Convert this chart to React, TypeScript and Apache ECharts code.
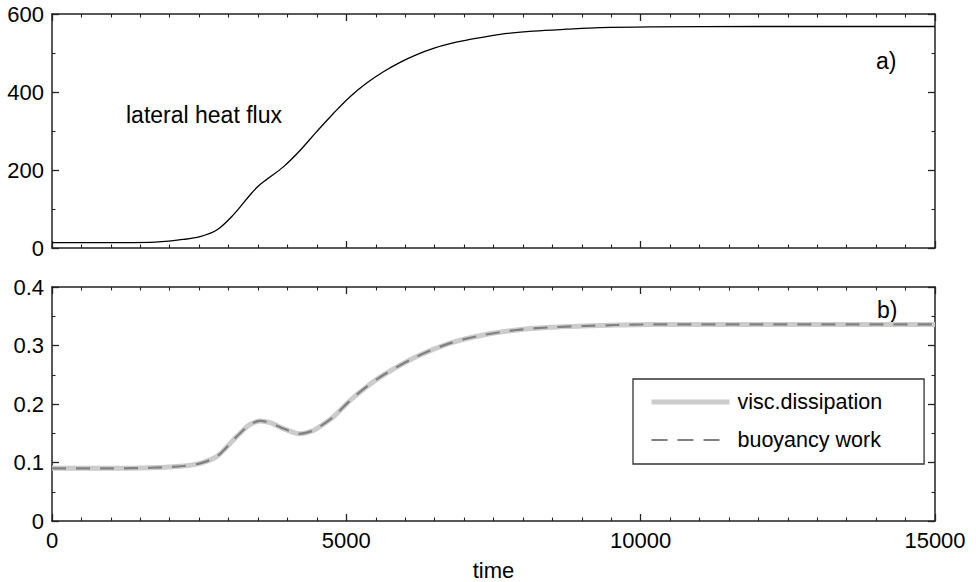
import React, { useEffect, useRef } from "react";
import * as echarts from "echarts";

const heatTime = [0, 1000, 1665, 2231, 2515, 2798, 3081, 3364, 3506, 3648, 3930, 4213, 4500, 4780, 5063, 5346, 5630, 5913, 6196, 6479, 6762, 7046, 7612, 8178, 8745, 9312, 10161, 12000, 15000];
const heatFlux = [14, 14, 14.5, 22, 29, 46, 85, 136, 159, 176, 208, 250, 299, 345, 388, 423, 452, 476, 496, 512, 524, 533, 548, 556, 561, 565, 567, 568, 568];

const workTime = [0, 1000, 1665, 2231, 2515, 2798, 3081, 3251, 3364, 3534, 3704, 3930, 4100, 4200, 4383, 4497, 4780, 5063, 5346, 5630, 6196, 6762, 7328, 7895, 8461, 9027, 9594, 10161, 12000, 15000];
const viscDissipation = [0.09, 0.09, 0.091, 0.094, 0.0986, 0.11, 0.1385, 0.1556, 0.165, 0.171, 0.168, 0.158, 0.1516, 0.149, 0.1527, 0.158, 0.178, 0.206, 0.2296, 0.2496, 0.281, 0.304, 0.318, 0.3265, 0.331, 0.3333, 0.335, 0.336, 0.336, 0.336];
const buoyancyWork = [0.09, 0.09, 0.091, 0.094, 0.0986, 0.11, 0.1385, 0.1556, 0.165, 0.171, 0.168, 0.158, 0.1516, 0.149, 0.1527, 0.158, 0.178, 0.206, 0.2296, 0.2496, 0.281, 0.304, 0.318, 0.3265, 0.331, 0.3333, 0.335, 0.336, 0.336, 0.336];

const xTicks = [0, 5000, 10000, 15000];
const topYTicks = [0, 200, 400, 600];
const bottomYTicks = [0, 0.1, 0.2, 0.3, 0.4];

const FONT = "'Liberation Sans', Arial, Helvetica, sans-serif";
const AXIS_COLOR = "#222";

function xAxisBase(gridIndex: number, position: "top" | "bottom", showLabels: boolean): any {
  return {
    type: "value",
    gridIndex,
    position,
    min: xTicks[0],
    max: xTicks[xTicks.length - 1],
    interval: xTicks[1] - xTicks[0],
    axisLine: { show: true, onZero: false, lineStyle: { color: AXIS_COLOR, width: 1.5 } },
    axisTick: { show: true, inside: true, length: 7, lineStyle: { color: AXIS_COLOR, width: 1.3 } },
    minorTick: { show: true, splitNumber: 10, length: 3.5, lineStyle: { color: AXIS_COLOR, width: 1.1 } },
    splitLine: { show: false },
    axisLabel: {
      show: showLabels,
      color: "#000",
      fontSize: 22,
      fontFamily: FONT,
      margin: 8,
      formatter: (v: number) => String(v),
    },
  };
}

function yAxisBase(gridIndex: number, position: "left" | "right", ticks: number[], showLabels: boolean): any {
  return {
    type: "value",
    gridIndex,
    position,
    min: ticks[0],
    max: ticks[ticks.length - 1],
    interval: ticks[1] - ticks[0],
    axisLine: { show: true, onZero: false, lineStyle: { color: AXIS_COLOR, width: 1.5 } },
    axisTick: { show: true, inside: true, length: 7, lineStyle: { color: AXIS_COLOR, width: 1.3 } },
    minorTick: { show: true, splitNumber: 2, length: 3.5, lineStyle: { color: AXIS_COLOR, width: 1.1 } },
    splitLine: { show: false },
    axisLabel: {
      show: showLabels,
      color: "#000",
      fontSize: 22,
      fontFamily: FONT,
      margin: 8,
      formatter: (v: number) => String(Math.round(v * 1000) / 1000),
    },
  };
}

export default function App() {
  const ref = useRef<HTMLDivElement>(null);

  useEffect(() => {
    if (!ref.current) return;
    const chart = echarts.init(ref.current, undefined, { renderer: "svg" });
    const heatData = heatTime.map((t, i) => [t, heatFlux[i]]);
    const viscData = workTime.map((t, i) => [t, viscDissipation[i]]);
    const buoyData = workTime.map((t, i) => [t, buoyancyWork[i]]);

    const bottomX = xAxisBase(1, "bottom", true);
    bottomX.name = "time";
    bottomX.nameLocation = "middle";
    bottomX.nameGap = 38;
    bottomX.nameTextStyle = { color: "#000", fontSize: 22, fontFamily: FONT };

    chart.setOption({
      animation: false,
      backgroundColor: "#fff",
      textStyle: { fontFamily: FONT },
      grid: [
        { left: 52, right: 41, top: 14, height: 234 },
        { left: 52, right: 41, top: 287, height: 234 },
      ],
      xAxis: [
        xAxisBase(0, "bottom", false),
        xAxisBase(0, "top", false),
        bottomX,
        xAxisBase(1, "top", false),
      ],
      yAxis: [
        yAxisBase(0, "left", topYTicks, true),
        yAxisBase(0, "right", topYTicks, false),
        yAxisBase(1, "left", bottomYTicks, true),
        yAxisBase(1, "right", bottomYTicks, false),
      ],
      legend: {
        orient: "vertical",
        left: 633,
        top: 379,
        padding: [11, 42, 12, 16],
        itemGap: 14,
        itemWidth: 78,
        itemHeight: 14,
        borderColor: "#333",
        borderWidth: 1.3,
        backgroundColor: "#fff",
        textStyle: { color: "#000", fontSize: 21.5, fontFamily: FONT, lineHeight: 24, padding: [0, 0, 0, 3] },
        data: [
          {
            name: "visc.dissipation",
            itemStyle: { opacity: 0 },
            lineStyle: { color: "#cccccc", width: 5, type: "solid", opacity: 1 },
          },
          {
            name: "buoyancy work",
            itemStyle: { opacity: 0 },
            lineStyle: { color: "#808080", width: 2.2, type: [16, 10], opacity: 1 },
          },
        ],
      },
      graphic: [
        {
          type: "text",
          left: 126,
          top: 103,
          style: { text: "lateral heat flux", fill: "#000", fontSize: 23, fontFamily: FONT },
        },
        {
          type: "text",
          left: 876,
          top: 49,
          style: { text: "a)", fill: "#000", fontSize: 23, fontFamily: FONT },
        },
        {
          type: "text",
          left: 877,
          top: 298,
          style: { text: "b)", fill: "#000", fontSize: 23, fontFamily: FONT },
        },
      ],
      series: [
        {
          name: "lateral heat flux",
          type: "line",
          xAxisIndex: 0,
          yAxisIndex: 0,
          data: heatData,
          smooth: 0.35,
          showSymbol: false,
          symbol: "none",
          lineStyle: { color: "#000", width: 1.3 },
          silent: true,
        },
        {
          name: "visc.dissipation",
          type: "line",
          xAxisIndex: 2,
          yAxisIndex: 2,
          data: viscData,
          smooth: 0.3,
          showSymbol: false,
          symbol: "none",
          lineStyle: { color: "#cccccc", width: 5 },
          z: 2,
        },
        {
          name: "buoyancy work",
          type: "line",
          xAxisIndex: 2,
          yAxisIndex: 2,
          data: buoyData,
          smooth: 0.3,
          showSymbol: false,
          symbol: "none",
          lineStyle: { color: "#808080", width: 2.2, type: [14, 10] },
          z: 3,
        },
      ],
    });
    return () => chart.dispose();
  }, []);

  return <div ref={ref} style={{ width: 976, height: 582, position: "absolute", left: 0, top: 0 }} />;
}
